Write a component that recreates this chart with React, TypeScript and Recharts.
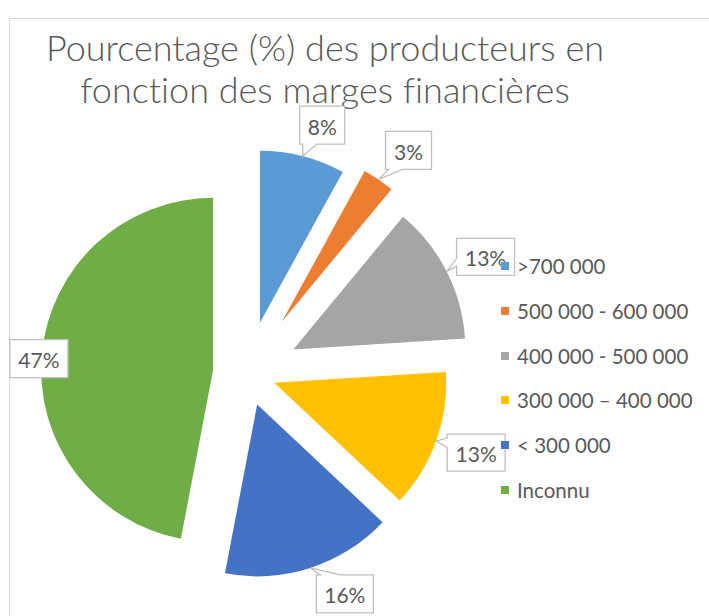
import React from "react";
import { PieChart, Pie, Cell, Sector, Legend } from "recharts";

const categories = [">700 000", "500 000 - 600 000", "400 000 - 500 000", "300 000 – 400 000", "< 300 000", "Inconnu"];
const shares = [8, 3, 13, 13, 16, 47];
const colors = ["#5B9BD5", "#ED7D31", "#A5A5A5", "#FFC000", "#4472C4", "#70AD47"];

// how far each slice is pulled out of the pie (px), same order as categories
const explode = [52, 62, 52, 29, 33, 34];

// callout box for each label: offset from the slice's outer mid point, size and pointer side
const callouts = [
  { dx: -3, dy: -50, w: 45, h: 38, side: "bottom", p0: 3, p1: 17 },
  { dx: 7, dy: -48, w: 46, h: 38, side: "bottom", p0: 3, p1: 17 },
  { dx: 10, dy: -33, w: 58, h: 37, side: "left", p0: 20, p1: 28 },
  { dx: 11, dy: -7, w: 58, h: 37, side: "left", p0: 4, p1: 13 },
  { dx: 6, dy: 7, w: 57, h: 38, side: "top", p0: 4, p1: 24 },
  { dx: -32, dy: -14, w: 58, h: 38, side: "none", p0: 0, p1: 0 },
];

const data = categories.map((name, i) => ({ name, value: shares[i] }));

const RADIAN = Math.PI / 180;
const TEXT = "#595959";
const FONT = "Lato, 'Noto Sans', sans-serif";

function pull(name: string, midAngle: number) {
  const d = explode[categories.indexOf(name)] ?? 0;
  return { dx: d * Math.cos(-midAngle * RADIAN), dy: d * Math.sin(-midAngle * RADIAN), d };
}

function ExplodedSlice(props: any) {
  const { dx, dy } = pull(props.name, props.midAngle);
  return <Sector {...props} cx={props.cx + dx} cy={props.cy + dy} />;
}

function calloutPath(x: number, y: number, w: number, h: number, ax: number, ay: number, side: string, p0: number, p1: number) {
  switch (side) {
    case "bottom":
      return `M${x},${y}H${x + w}V${y + h}H${x + p1}L${ax},${ay}L${x + p0},${y + h}H${x}Z`;
    case "left":
      return `M${x},${y}H${x + w}V${y + h}H${x}V${y + p1}L${ax},${ay}L${x},${y + p0}Z`;
    case "top":
      return `M${x},${y}H${x + p0}L${ax},${ay}L${x + p1},${y}H${x + w}V${y + h}H${x}Z`;
    default:
      return `M${x},${y}H${x + w}V${y + h}H${x}Z`;
  }
}

function CalloutLabel(props: any) {
  const { cx, cy, midAngle, outerRadius, name, value } = props;
  const i = categories.indexOf(name);
  const { d } = pull(name, midAngle);
  const r = outerRadius + d;
  const ax = cx + r * Math.cos(-midAngle * RADIAN);
  const ay = cy + r * Math.sin(-midAngle * RADIAN);
  const c = callouts[i];
  const x = ax + c.dx;
  const y = ay + c.dy;
  return (
    <g>
      <path d={calloutPath(x, y, c.w, c.h, ax, ay, c.side, c.p0, c.p1)} fill="#fff" stroke="#BFBFBF" strokeWidth={1.3} />
      <text x={x + c.w / 2} y={y + c.h / 2 + 1} textAnchor="middle" dominantBaseline="central" fill={TEXT} fontSize={21} fontFamily={FONT}>
        {value}%
      </text>
    </g>
  );
}

function LegendList({ payload }: any) {
  const items = [...(payload || [])].sort((a: any, b: any) => categories.indexOf(a.value) - categories.indexOf(b.value));
  return (
    <div style={{ fontFamily: FONT, fontSize: 20.5, color: TEXT }}>
      {items.map((p: any) => (
        <div key={p.value} style={{ height: 44.8, display: "flex", alignItems: "center", whiteSpace: "nowrap" }}>
          <span style={{ width: 8, height: 8, flexShrink: 0, background: p.color, display: "inline-block", marginRight: 8 }} />
          {p.value}
        </div>
      ))}
    </div>
  );
}

export default function App() {
  return (
    <div style={{ position: "fixed", left: 0, top: 0, width: 709, height: 616, overflow: "hidden", background: "#fff" }}>
      <div style={{ position: "absolute", left: 9, top: 18, width: 760, height: 660, borderTop: "1px solid #D9D9D9", borderLeft: "1px solid #D9D9D9" }} />
      <div
        style={{
          position: "absolute",
          left: 0,
          top: 26,
          width: 650,
          textAlign: "center",
          fontFamily: FONT,
          fontSize: 36,
          fontWeight: 300,
          lineHeight: "42px",
          color: TEXT,
          fontVariantLigatures: "none",
        }}
      >
        Pourcentage (%) des producteurs en
        <br />
        fonction des marges financières
      </div>
      <div style={{ position: "absolute", left: 0, top: 0 }}>
        <PieChart width={709} height={616} margin={{ top: 0, right: 0, bottom: 0, left: 0 }}>
          <Pie
            data={data}
            dataKey="value"
            nameKey="name"
            cx={247}
            cy={373}
            outerRadius={172}
            startAngle={90}
            endAngle={-270}
            stroke="none"
            labelLine={false}
            label={CalloutLabel}
            {...({ shape: ExplodedSlice } as any)}
            inactiveShape={ExplodedSlice}
            activeShape={ExplodedSlice}
            isAnimationActive={false}
          >
            {data.map((entry, i) => (
              <Cell key={entry.name} fill={colors[i]} />
            ))}
          </Pie>
          <Legend
            layout="vertical"
            align="right"
            verticalAlign="middle"
            content={LegendList}
            wrapperStyle={{ position: "absolute", left: 501, top: 243.6, width: 208, zIndex: 2 }}
          />
        </PieChart>
      </div>
    </div>
  );
}
